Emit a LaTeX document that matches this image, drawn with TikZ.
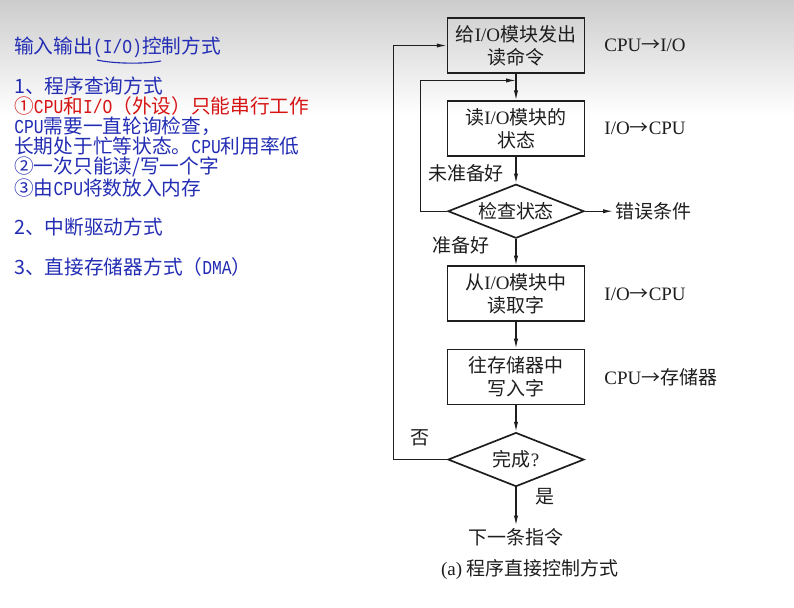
\documentclass[tikz,border=0pt]{standalone}
\usepackage{fontspec}
\setmainfont{Liberation Serif}
\newfontfamily\cjk{Noto Sans CJK SC}
\newfontfamily\halfw[FakeStretch=0.83]{Liberation Mono}
\usetikzlibrary{arrows.meta,positioning,calc,shapes.geometric}
\definecolor{penblue}{RGB}{35,45,180}
\definecolor{penred}{RGB}{215,20,20}
\definecolor{ink}{RGB}{30,30,30}
\newcommand{\zh}[1]{{\cjk #1}}
\newcommand{\hw}[1]{{\halfw #1}}
\newcommand{\goes}{{\cjk →}}

\begin{document}
\begin{tikzpicture}[>=Latex,x=0.025cm,y=-0.025cm,node distance=0.66cm]
  \tikzstyle{box}=[draw=ink,very thick,minimum width=3.425cm,minimum height=1.375cm,align=center,inner sep=2pt,text=ink,font=\fontsize{13.5}{16.4}\selectfont]
  \tikzstyle{test}=[draw=ink,very thick,diamond,aspect=2.5,minimum width=3.4cm,minimum height=1.35cm,inner sep=0pt,text=ink,font=\fontsize{13.5}{16}\selectfont]
  \tikzstyle{lbl}=[text=ink,inner sep=2pt,font=\fontsize{13.5}{16}\selectfont]
  \tikzstyle{arr}=[thick,draw=ink,-{Latex[length=7pt,width=3pt]}]
  \tikzstyle{note}=[anchor=west,align=left,text=penblue,inner sep=0pt,font=\cjk\fontsize{14}{14.2}\selectfont]

  % background
  \useasboundingbox (0,0) rectangle (794,607);
  \fill[white] (0,0) rectangle (794,607);
  \shade[top color=black!20,bottom color=white] (0,0) rectangle (794,115);

  % notes on the left
  \node[note] (title) at (14,47) {输入输出\hw{(I/O)}控制方式};
  \draw[penblue,thick] (97,60) .. controls (115,64) and (145,64) .. (161,61);
  \node[note] (m1) at (14,137) {1、程序查询方式\\
    \textcolor{penred}{①\hw{CPU}和\hw{I/O}（外设）只能串行工作}\\
    \hw{CPU}需要一直轮询检查，\\
    长期处于忙等状态。\hw{CPU}利用率低\\
    ②一次只能读/写一个字\\
    ③由\hw{CPU}将数放入内存};
  \node[note] (m2) at (14,227) {2、中断驱动方式};
  \node[note] (m3) at (14,267) {3、直接存储器方式（\hw{DMA}）};

  % flow chart
  \node[box] (rd) at (516,45.5) {\zh{给}I/O\zh{模块发出}\\\zh{读命令}};
  \node[box,below=of rd] (st) {\zh{读}I/O\zh{模块的}\\\zh{状态}};
  \node[test,below=of st] (ck) {\zh{检查状态}};
  \node[box,below=of ck] (gw) {\zh{从}I/O\zh{模块中}\\\zh{读取字}};
  \node[box,below=of gw] (mw) {\zh{往存储器中}\\\zh{写入字}};
  \node[test,below=of mw] (dn) {\zh{完成}?};
  \node[lbl,below=0.95cm of dn] (nx) {\zh{下一条指令}};

  \node[lbl,right=0.4cm of rd] (c1) {CPU\goes I/O};
  \node[lbl,right=0.4cm of st] (c2) {I/O\goes CPU};
  \node[lbl,right=0.4cm of gw] (c3) {I/O\goes CPU};
  \node[lbl,right=0.4cm of mw] (c4) {CPU\goes\zh{存储器}};
  \node[lbl,right=0.7cm of ck] (er) {\zh{错误条件}};

  \node[lbl] (nr) at (466,173) {\zh{未准备好}};
  \node[lbl] (ry) at (461,245) {\zh{准备好}};
  \node[lbl] (no) at (420,438) {\zh{否}};
  \node[lbl] (ys) at (545,497) {\zh{是}};
  \node[lbl] (cap) at (530,569) {(a) \zh{程序直接控制方式}};

  \coordinate (back) at ($(rd.south)!0.25!(st.north)$);
  \draw[arr] (rd) -- (st);
  \draw[arr] (st) -- (ck);
  \draw[arr] (ck) -- (gw);
  \draw[arr] (gw) -- (mw);
  \draw[arr] (mw) -- (dn);
  \draw[arr] (dn) -- (nx);
  \draw[arr] (ck) -- (er);
  \draw[arr] (ck.west) -- ++(-27,0) |- (back);
  \draw[arr] (dn.west) -- ++(-54,0) |- (rd.west);
\end{tikzpicture}
\end{document}
